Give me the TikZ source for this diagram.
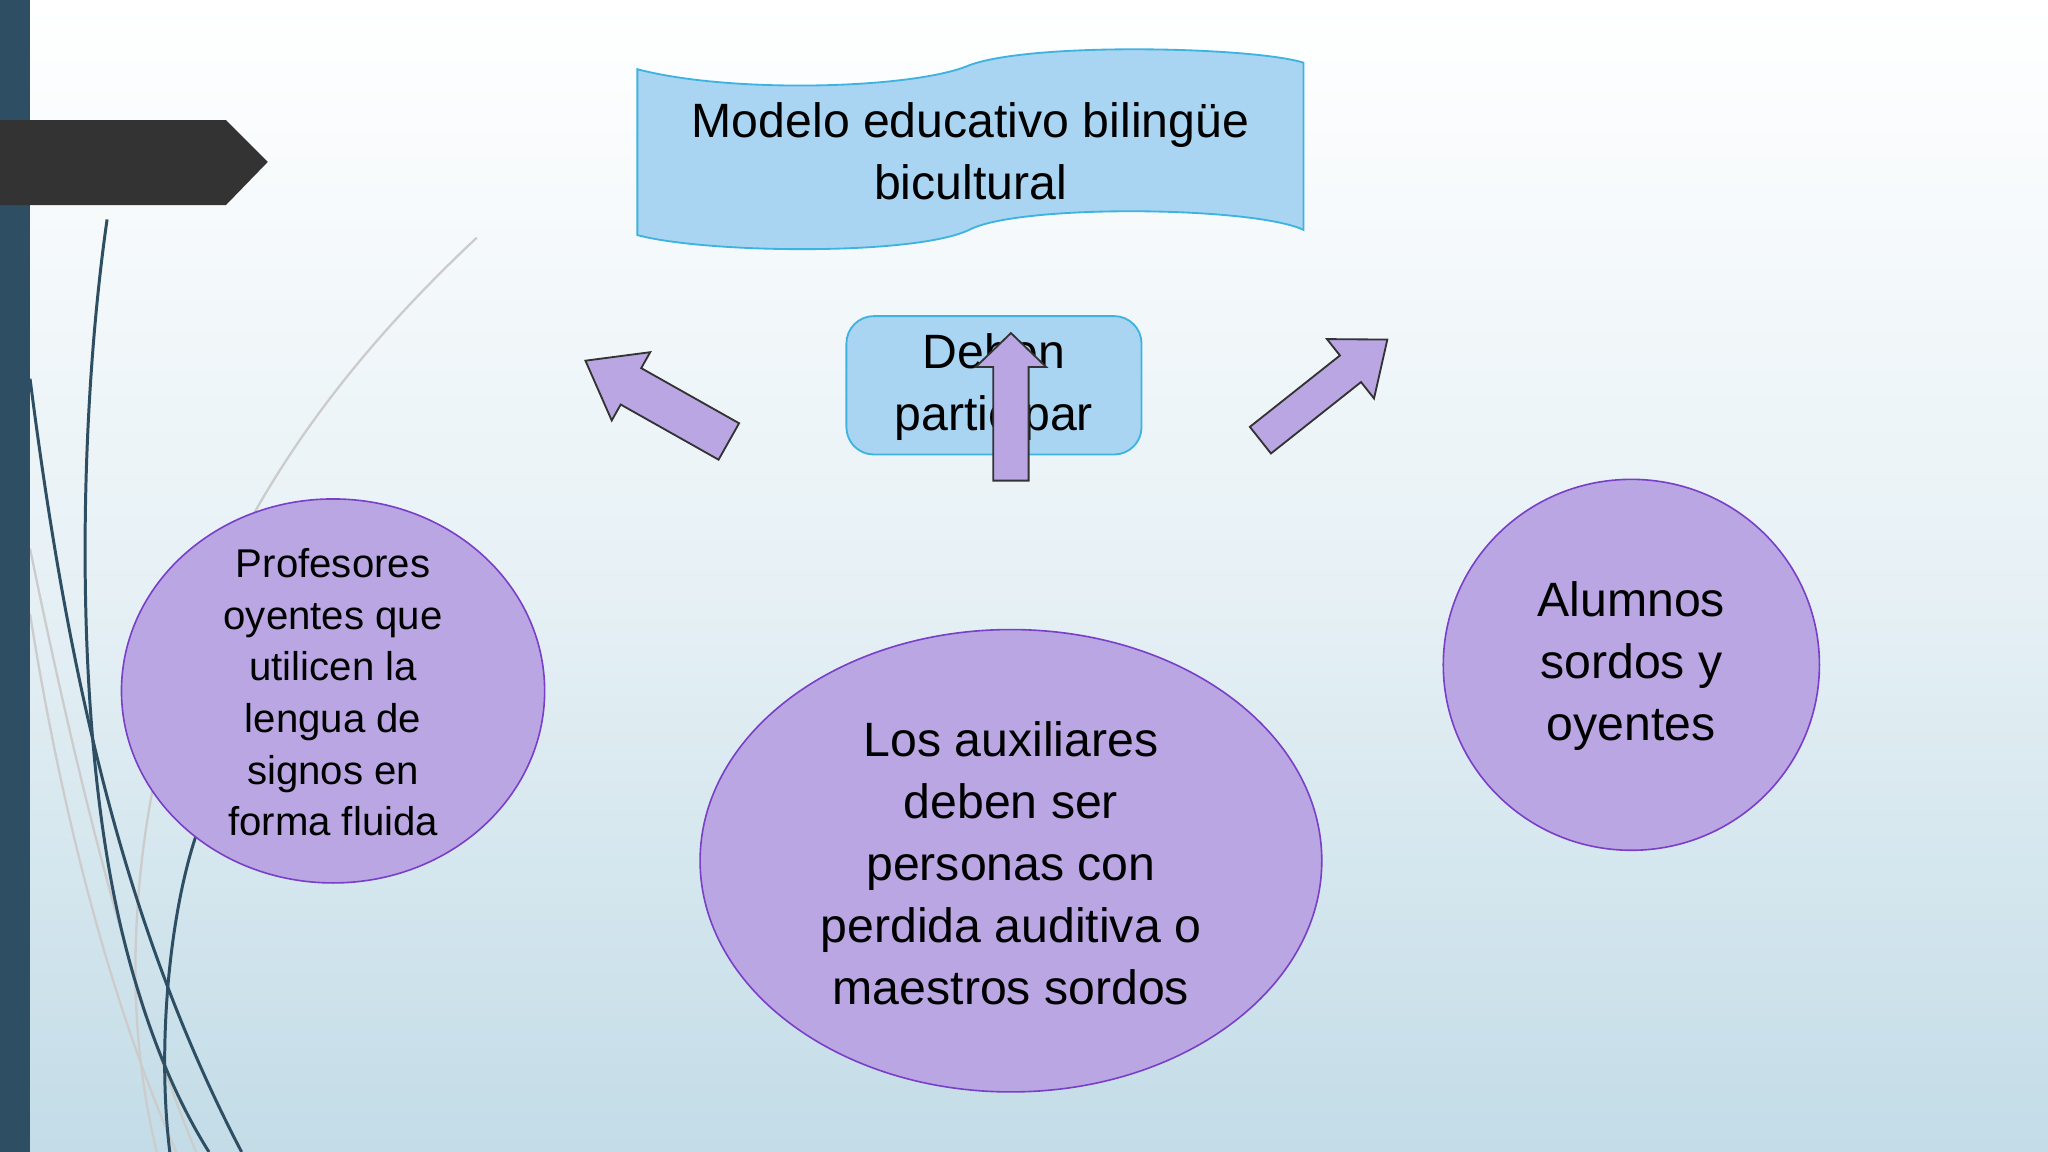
\documentclass[tikz,border=0pt]{standalone}
\usepackage{fontspec}
\setmainfont{Liberation Sans}
\begin{document}
\begin{tikzpicture}[x=0.02cm,y=-0.02cm,
  bluefill/.style={fill=bluebox,draw=blueline,line width=0.8pt},
  purp/.style={fill=purplefill,draw=purpleline,line width=0.7pt},
  barrow/.style={fill=purplefill,draw=black!80,line width=0.8pt},
  curvedark/.style={draw=bardark,line width=1.3pt},
  curvelight/.style={draw=gray!40,line width=1pt}]
\definecolor{bluebox}{HTML}{A9D5F2}
\definecolor{blueline}{HTML}{3FB3E0}
\definecolor{purplefill}{HTML}{B9A6E2}
\definecolor{purpleline}{HTML}{7A3FC8}
\definecolor{bardark}{HTML}{2D4E63}
\definecolor{bgbot}{HTML}{C3DCE7}
\useasboundingbox (0,0) rectangle (1568,882);
\shade[top color=white,bottom color=bgbot,middle color=white!60!bgbot] (0,0) rectangle (1568,882);
% decorative curves
\draw[curvelight] (365,182) .. controls (250,290) and (120,450) .. (105,700) .. controls (100,780) and (110,840) .. (120,882);
\draw[curvelight] (23,420) .. controls (60,600) and (100,760) .. (150,882);
\draw[curvelight] (23,470) .. controls (50,640) and (90,780) .. (135,882);
\draw[curvedark] (82,168) .. controls (60,320) and (55,560) .. (95,720) .. controls (115,800) and (140,850) .. (160,882);
\draw[curvedark] (23,290) .. controls (50,500) and (90,700) .. (185,882);
\draw[curvedark] (150,640) .. controls (130,700) and (120,800) .. (130,882);
\fill[bardark] (0,0) rectangle (23,882);
\fill[black!80] (0,92) -- (173,92) -- (205,124) -- (173,157) -- (0,157) -- cycle;
% banner
\draw[bluefill] (488,53) .. controls (560,72) and (700,68) .. (742,50) .. controls (790,32) and (960,36) .. (998,48)
  -- (998,176) .. controls (960,158) and (780,156) .. (742,176) .. controls (700,196) and (540,194) .. (488,180) -- cycle;
\node[font=\fontsize{21}{27}\selectfont,align=center] (title) at (743,116) {Modelo educativo bilingüe\\bicultural};
\draw[bluefill,rounded corners=12] (648,242) rectangle (874,348);
\node[font=\fontsize{21}{27}\selectfont,align=center] (deben) at (761,296) {Deben\\participar};
% ellipses
\draw[purp] (255,529) ellipse [x radius=162,y radius=147];
\node[font=\fontsize{17.5}{22.5}\selectfont,align=center] (prof) at (255,530) {Profesores\\oyentes que\\utilicen la\\lengua de\\signos en\\forma fluida};
\draw[purp] (774,659) ellipse [x radius=238,y radius=177];
\node[font=\fontsize{21}{27}\selectfont,align=center] (aux) at (774,661) {Los auxiliares\\deben ser\\personas con\\perdida auditiva o\\maestros sordos};
\draw[purp] (1249,509) ellipse [x radius=144,y radius=142];
\node[font=\fontsize{21}{27}\selectfont,align=center] (alum) at (1249,510) {Alumnos\\sordos y\\oyentes};
% block arrows
\begin{scope}[shift={(558,338)},rotate=150.6]
\draw[barrow] (0,-16) -- (86,-16) -- (86,-30) -- (126,0) -- (86,30) -- (86,16) -- (0,16) -- cycle;
\end{scope}
\begin{scope}[shift={(774,368)},rotate=90]
\draw[barrow] (0,-13.5) -- (87,-13.5) -- (87,-27) -- (113,0) -- (87,27) -- (87,13.5) -- (0,13.5) -- cycle;
\end{scope}
\begin{scope}[shift={(965,337)},rotate=38.4]
\draw[barrow] (0,-13) -- (88,-13) -- (88,-29) -- (124,0) -- (88,29) -- (88,13) -- (0,13) -- cycle;
\end{scope}
\end{tikzpicture}
\end{document}
